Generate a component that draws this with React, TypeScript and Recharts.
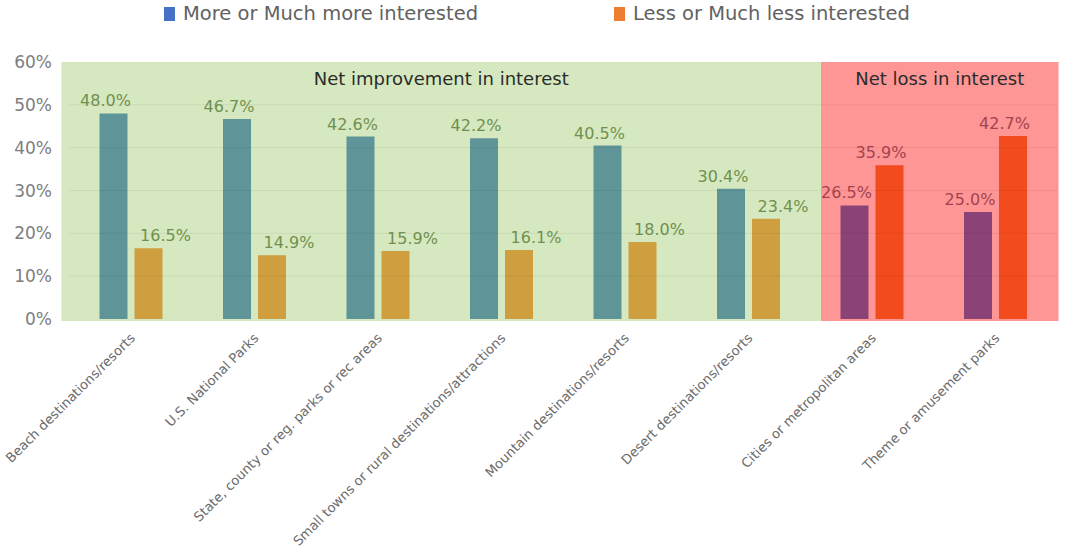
import React from 'react';
import {
  BarChart, Bar, XAxis, YAxis, ReferenceArea, ReferenceLine, LabelList, Cell, Legend,
} from 'recharts';

const categories = [
  'Beach destinations/resorts',
  'U.S. National Parks',
  'State, county or reg. parks or rec areas',
  'Small towns or rural destinations/attractions',
  'Mountain destinations/resorts',
  'Desert destinations/resorts',
  'Cities or metropolitan areas',
  'Theme or amusement parks',
];
const moreInterested = [0.48, 0.467, 0.426, 0.422, 0.405, 0.304, 0.265, 0.25];
const lessInterested = [0.165, 0.149, 0.159, 0.161, 0.18, 0.234, 0.359, 0.427];
const netLoss = [false, false, false, false, false, false, true, true];
const yTicks = [0, 0.1, 0.2, 0.3, 0.4, 0.5, 0.6];
const seriesNames = ['More or Much more interested', 'Less or Much less interested'];
const regionTitles = ['Net improvement in interest', 'Net loss in interest'];
const legendColors = ['#4472C4', '#ED7D31'];

const data = categories.map((name, i) => ({
  name,
  more: moreInterested[i],
  less: lessInterested[i],
  loss: netLoss[i],
}));

const FONT = "'DejaVu Sans', sans-serif";

const renderLegend = () => (
  <div style={{ position: 'relative', height: 30, fontFamily: FONT }}>
    {seriesNames.map((n, i) => (
      <div
        key={n}
        style={{
          position: 'absolute',
          left: i === 0 ? 164 : 614,
          top: 2,
          display: 'flex',
          alignItems: 'center',
          fontSize: 19.5,
          color: '#626262',
          whiteSpace: 'nowrap',
        }}
      >
        <span style={{ display: 'inline-block', width: 11, height: 14, background: legendColors[i], marginRight: 8 }} />
        {n}
      </div>
    ))}
  </div>
);

const makeLabel = (series: 'more' | 'less') => (props: any) => {
  const { x, y, width, value, index } = props;
  const loss = netLoss[index];
  const dx = series === 'more' ? -8 : loss ? -8.5 : 17;
  return (
    <text
      x={x + width / 2 + dx}
      y={y - 7}
      textAnchor="middle"
      fontFamily={FONT}
      fontSize={16}
      fill={loss ? '#A3434F' : '#71904F'}
    >
      {(value * 100).toFixed(1) + '%'}
    </text>
  );
};

const XTick = (props: any) => {
  const { x, y, payload } = props;
  return (
    <g transform={`translate(${x + 5},${y + 12})`}>
      <text transform="rotate(-45)" textAnchor="end" fontFamily={FONT} fontSize={13.2} fill="#6b6b6b">
        {payload.value}
      </text>
    </g>
  );
};

const makeRegion = (title: string, padLeft: number, padRight: number, fill: string) => (props: any) => {
  const { x, y, width, height } = props;
  const rx = x - padLeft;
  const rw = width + padLeft + padRight;
  return (
    <g>
      <rect x={rx} y={y} width={rw} height={height + 2} fill={fill} />
      <text x={rx + rw / 2} y={y + 23} textAnchor="middle" fontFamily={FONT} fontSize={18} fill="#2b2b2b">
        {title}
      </text>
    </g>
  );
};

export default function App() {
  return (
    <div style={{ position: 'absolute', left: 0, top: 0, width: 1069, height: 550, background: '#fff' }}>
      <BarChart
        width={1069}
        height={550}
        data={data}
        margin={{ top: 32, right: 12, bottom: 0, left: 0 }}
        barCategoryGap="24.7%"
        barGap={7}
      >
        <Legend verticalAlign="top" height={30} wrapperStyle={{ top: 0, left: 0 }} content={renderLegend} />
        <ReferenceArea
          x1={categories[0]}
          x2={categories[5]}
          y1={0}
          y2={0.6}
          shape={makeRegion(regionTitles[0], 7.6, 11, '#D5E8BF')}
        />
        <ReferenceArea
          x1={categories[6]}
          x2={categories[7]}
          y1={0}
          y2={0.6}
          shape={makeRegion(regionTitles[1], -11, 1.5, '#FE9696')}
        />
        {yTicks.slice(1, 6).map((t) => (
          <ReferenceLine key={t} y={t} stroke="rgba(0,0,0,0.06)" strokeWidth={1} />
        ))}
        <XAxis
          dataKey="name"
          interval={0}
          height={231}
          axisLine={false}
          tickLine={false}
          tick={<XTick />}
        />
        <YAxis
          domain={[0, 0.6]}
          ticks={yTicks}
          width={69}
          axisLine={false}
          tickLine={false}
          tickMargin={11}
          tick={{ fontFamily: FONT, fontSize: 17, fill: '#7d7d7d' }}
          tickFormatter={(v: number) => `${Math.round(v * 100)}%`}
        />
        <Bar dataKey="more" name={seriesNames[0]} isAnimationActive={false}>
          {data.map((d, i) => (
            <Cell key={i} fill={d.loss ? '#8B4276' : '#5F9598'} />
          ))}
          <LabelList dataKey="more" content={makeLabel('more')} />
        </Bar>
        <Bar dataKey="less" name={seriesNames[1]} isAnimationActive={false}>
          {data.map((d, i) => (
            <Cell key={i} fill={d.loss ? '#F24B1E' : '#CF9F3F'} />
          ))}
          <LabelList dataKey="less" content={makeLabel('less')} />
        </Bar>
      </BarChart>
    </div>
  );
}
